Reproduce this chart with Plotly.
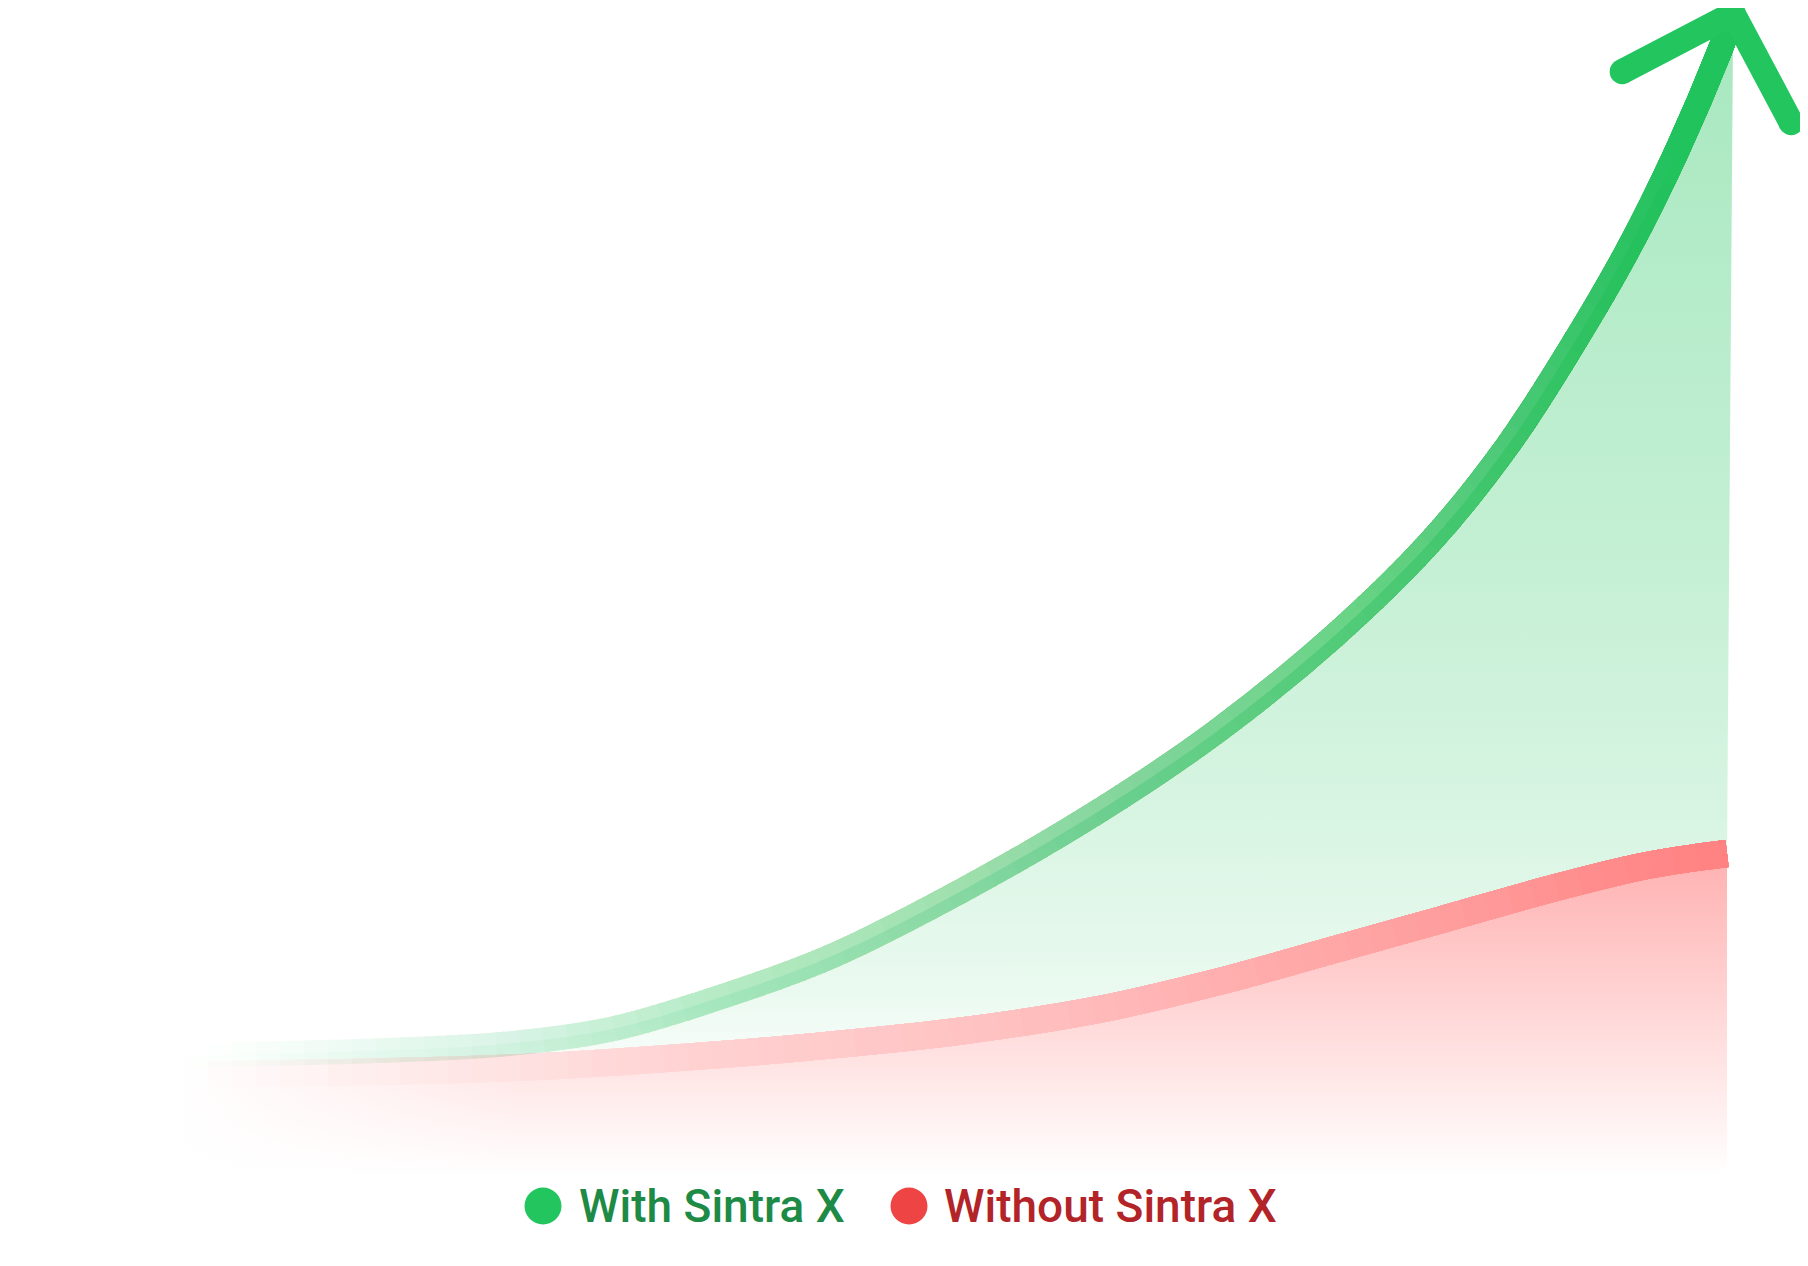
import numpy as np
import plotly.graph_objects as go

W, H = 1808, 1266
FW, FH = W - 8, H - 8   # the page body keeps its default 8px margin

# x = time, y = growth index
with_x = [0, 12.4, 21.0, 27.5, 33.1, 41.7, 50.4, 59.1, 66.9, 74.5, 80.8,
          85.8, 89.8, 93.6, 96.8, 99.5, 100.4]
with_y = [10.4, 10.8, 11.4, 12.6, 14.7, 18.8, 24.6, 31.3, 38.3, 46.5, 54.7,
          63.0, 71.2, 79.9, 88.5, 96.9, 100.2]
without_x = [0, 21.0, 33.1, 40.4, 50.4, 59.1, 66.9, 74.0, 81.5, 89.0, 94.2, 97.2, 100]
without_y = [8.7, 9.3, 10.3, 11.1, 12.5, 14.3, 16.7, 19.3, 22.1, 24.9, 26.6, 27.3, 27.8]
labels = ["With Sintra X", "Without Sintra X"]

xr = [-11.41, 105.25]
yr = [-7.76, 100.69]
px_x = FW / (xr[1] - xr[0])
px_y = FH / (yr[1] - yr[0])

# stroke strength from left to right (style only)
g_ramp_x = [0, 5, 12, 21, 27, 33, 42, 50, 59, 67, 75, 81, 86, 90, 94, 97, 100]
g_ramp_a = [0.0, 0.03, 0.08, 0.14, 0.22, 0.29, 0.35, 0.4, 0.5, 0.57, 0.63, 0.7,
            0.76, 0.84, 0.93, 0.99, 0.995]
r_ramp_x = [0, 5, 12, 21, 33, 50, 59, 67, 77, 85, 93, 100]
r_ramp_a = [0.0, 0.04, 0.09, 0.15, 0.24, 0.31, 0.36, 0.42, 0.48, 0.54, 0.61, 0.66]


def path_len(xs, ys):
    d = np.hypot(np.diff(xs) * px_x, np.diff(ys) * px_y)
    return np.concatenate([[0], np.cumsum(d)])


fig = go.Figure()

# red area under "without"
fig.add_trace(go.Scatter(
    x=without_x, y=without_y, mode="none", fill="tozeroy", line_shape="spline",
    fillgradient=dict(type="vertical", start=0, stop=max(without_y),
                      colorscale=[[0, "rgba(255,150,150,0)"], [1, "rgba(255,150,150,0.75)"]]),
    hoverinfo="skip", showlegend=False))

# green area between the two curves
fig.add_trace(go.Scatter(
    x=with_x, y=with_y, mode="none", fill="tonexty", line_shape="spline",
    fillgradient=dict(type="vertical", start=min(without_y), stop=max(with_y),
                      colorscale=[[0, "rgba(34,197,94,0.02)"], [0.08, "rgba(34,197,94,0.095)"],
                                  [0.25, "rgba(34,197,94,0.18)"], [0.5, "rgba(34,197,94,0.27)"],
                                  [1, "rgba(34,197,94,0.40)"]]),
    hoverinfo="skip", showlegend=False))

# soft white fade on the left
fx0, fx1 = xr[0], with_x[0] + 22
ftop = max(without_y[:3]) + 8
fig.add_trace(go.Scatter(
    x=[fx0, fx1, fx1, fx0], y=[yr[0], yr[0], ftop, ftop],
    mode="none", fill="toself",
    fillgradient=dict(type="horizontal", start=fx0, stop=fx1,
                      colorscale=[[0, "rgba(255,255,255,1)"], [0.36, "rgba(255,255,255,0.93)"],
                                  [0.7, "rgba(255,255,255,0.45)"], [1, "rgba(255,255,255,0)"]]),
    hoverinfo="skip", showlegend=False))

STEP = 24

# red stroke: opaque, later pieces start further along the path
cum = path_len(without_x, without_y)
total = cum[-1]
for s in np.arange(0, total, STEP):
    xm = np.interp(s + STEP / 2, cum, without_x)
    a = np.interp(xm, r_ramp_x, r_ramp_a)
    g = int(round(255 - 191 * a))
    fig.add_trace(go.Scatter(
        x=without_x, y=without_y, mode="lines", line_shape="spline",
        line=dict(color="rgb(255,%d,%d)" % (g, g), width=27,
                  dash="0px,%.1fpx,%dpx" % (s, int(total) + 400)),
        hoverinfo="skip", showlegend=False))

# green stroke: translucent pieces stacked along the same path
cum = path_len(with_x, with_y)
total = cum[-1]
prev = 0.0
for s in np.arange(0, total, STEP):
    xm = np.interp(s + STEP / 2, cum, with_x)
    target = max(np.interp(xm, g_ramp_x, g_ramp_a), prev)
    a = 1 - (1 - target) / (1 - prev)
    prev = target
    if a < 0.002:
        continue
    fig.add_trace(go.Scatter(
        x=with_x, y=with_y, mode="lines", line_shape="spline",
        line=dict(color="rgba(34,197,94,%.4f)" % a, width=25,
                  dash="0px,%.1fpx,%dpx" % (s, int(total) + 400)),
        hoverinfo="skip", showlegend=False))

# arrow head at the end of the green curve
tx, ty = with_x[-1], with_y[-1]
ax = [tx - 111 / px_x, tx, tx + 58 / px_x]
ay = [ty - 58 / px_y, ty, ty - 109 / px_y]
fig.add_trace(go.Scatter(
    x=ax, y=ay, mode="lines+markers",
    line=dict(color="#22c55e", width=25),
    marker=dict(color="#22c55e", size=25, line_width=0),
    hoverinfo="skip", showlegend=False))

# legend
dots = [(535, "#22c55e", "#1d8a45", 569), (901, "#ef4444", "#b22428", 934)]
ly = 1198
for (cx, dot, txt, tx0), lab in zip(dots, labels):
    r = 18.5
    fig.add_shape(type="circle", xref="paper", yref="paper",
                  x0=(cx - r) / FW, x1=(cx + r) / FW,
                  y0=1 - (ly + r) / FH, y1=1 - (ly - r) / FH,
                  fillcolor=dot, line_width=0)
    fig.add_annotation(x=tx0 / FW, y=1 - ly / FH, xref="paper", yref="paper",
                       xanchor="left", yanchor="middle", showarrow=False,
                       text=lab, font=dict(family="Roboto", size=46, color=txt, weight=500))

fig.update_layout(
    width=FW, height=FH, margin=dict(l=0, r=0, t=0, b=0),
    paper_bgcolor="white", plot_bgcolor="white", showlegend=False,
    xaxis=dict(range=xr, visible=False, fixedrange=True),
    yaxis=dict(range=yr, visible=False, fixedrange=True),
)

fig.write_html("out.html", config={"displayModeBar": False})
